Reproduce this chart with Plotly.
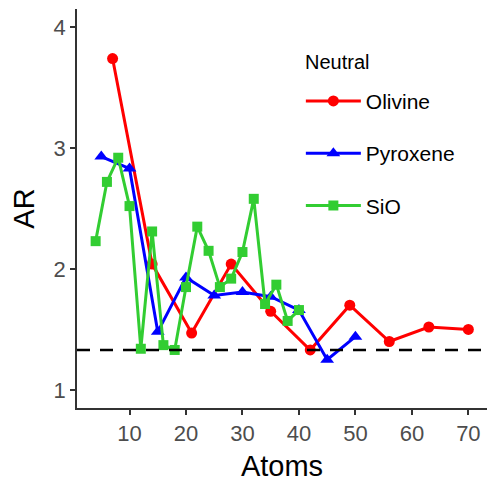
import plotly.graph_objects as go

olivine_x = [7, 14, 21, 28, 35, 42, 49, 56, 63, 70]
olivine_y = [3.74, 2.04, 1.47, 2.04, 1.65, 1.33, 1.70, 1.40, 1.52, 1.50]

pyroxene_x = [5, 10, 15, 20, 25, 30, 35, 40, 45, 50]
pyroxene_y = [2.93, 2.83, 1.48, 1.93, 1.78, 1.81, 1.77, 1.66, 1.25, 1.44]

sio_x = [4, 6, 8, 10, 12, 14, 16, 18, 20, 22, 24, 26, 28, 30, 32, 34, 36, 38, 40]
sio_y = [2.23, 2.72, 2.92, 2.52, 1.34, 2.31, 1.37, 1.33, 1.85, 2.35, 2.15, 1.85,
         1.92, 2.14, 2.58, 1.71, 1.87, 1.57, 1.66]

threshold = 1.33
x_ticks = [10, 20, 30, 40, 50, 60, 70]
y_ticks = [1, 2, 3, 4]

FONT = "Liberation Sans, Arial, sans-serif"

fig = go.Figure()
series = [
    ("Olivine", olivine_x, olivine_y, "#FF0000", "circle", 11),
    ("Pyroxene", pyroxene_x, pyroxene_y, "#0000FF", "triangle-up", 12),
    ("SiO", sio_x, sio_y, "#32CD32", "square", 10),
]
for name, xs, ys, col, sym, sz in series:
    fig.add_trace(go.Scatter(
        x=xs, y=ys, name=name, mode="lines+markers",
        line=dict(color=col, width=3),
        marker=dict(color=col, symbol=sym, size=sz),
        legendgroup=name,
    ))

fig.add_shape(type="line", xref="paper", yref="y", x0=0, x1=1,
              y0=threshold, y1=threshold,
              line=dict(color="black", width=2.5, dash="13px,10px"))

fig.add_annotation(text="Neutral", xref="paper", yref="paper",
                   x=0.551, y=0.867, xanchor="left", yanchor="middle",
                   showarrow=False, font=dict(size=20, color="black"))

fig.update_layout(
    width=487, height=484,
    margin=dict(l=77, r=0, t=9, b=76),
    paper_bgcolor="white", plot_bgcolor="white",
    font=dict(family=FONT, color="black"),
    showlegend=True,
    legend=dict(
        font=dict(size=21, color="black"),
        x=0.546, y=0.820, xanchor="left", yanchor="top",
        bgcolor="rgba(0,0,0,0)",
        tracegroupgap=22,
        traceorder="grouped",
        itemwidth=55,
    ),
    xaxis=dict(
        range=[0.7, 73.3], tickvals=x_ticks, ticktext=[str(v) for v in x_ticks],
        showgrid=False, zeroline=False,
        showline=True, linecolor="#333333", linewidth=1.5,
        ticks="outside", ticklen=5, tickwidth=1.5, tickcolor="#333333",
        tickfont=dict(size=22, color="#4D4D4D"),
        title=dict(text="Atoms", font=dict(size=29, color="black"), standoff=11),
    ),
    yaxis=dict(
        range=[0.85, 4.15], tickvals=y_ticks, ticktext=[str(v) for v in y_ticks],
        showgrid=False, zeroline=False,
        showline=True, linecolor="#333333", linewidth=1.5,
        ticks="outside", ticklen=5, tickwidth=1.5, tickcolor="#333333",
        tickfont=dict(size=22, color="#4D4D4D"),
        title=dict(text="AR", font=dict(size=29, color="black"), standoff=10),
    ),
)

fig.write_html("out.html")
